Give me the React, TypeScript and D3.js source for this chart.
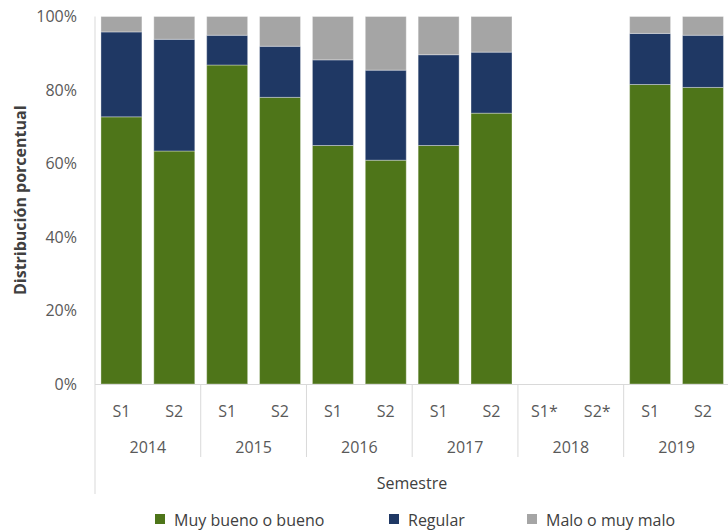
import React from "react";
import * as d3 from "d3";

const years = ["2014", "2015", "2016", "2017", "2018", "2019"];
const semesters = ["S1", "S2", "S1", "S2", "S1", "S2", "S1", "S2", "S1*", "S2*", "S1", "S2"];
const muyBueno: (number | null)[] = [72.7, 63.4, 86.8, 78.0, 64.9, 60.9, 64.9, 73.7, null, null, 81.5, 80.7];
const regular: (number | null)[] = [23.1, 30.4, 8.1, 13.9, 23.3, 24.5, 24.7, 16.6, null, null, 13.9, 14.2];
const malo: (number | null)[] = [4.2, 6.2, 5.1, 8.1, 11.8, 14.6, 10.4, 9.7, null, null, 4.6, 5.1];
const seriesNames = ["Muy bueno o bueno", "Regular", "Malo o muy malo"];
const colors = ["#4E7519", "#1F3864", "#A5A5A5"];
const yTicks = [0, 20, 40, 60, 80, 100];

const W = 728, H = 531;
const M = { left: 95, right: 729.4, top: 16.5, bottom: 384 };
const FONT = "'Open Sans', sans-serif";
const FS = 16;

export default function App() {
  const idx = semesters.map((_, i) => String(i));
  const x = d3.scaleBand().domain(idx).range([M.left, M.right]).paddingInner(0.225).paddingOuter(0.1125);
  const step = x.step();
  const y = d3.scaleLinear().domain([0, 100]).range([M.bottom, M.top]);
  const rows = semesters.map((_, i) => ({ i: String(i), a: muyBueno[i], b: regular[i], c: malo[i] }));
  const stack = d3.stack<any>().keys(["a", "b", "c"]).value((d, k) => (d[k] ?? 0));
  const layers = stack(rows);
  const sepX = d3.range(0, 13, 2).map((k) => M.left + k * step);

  return (
    <svg width={W} height={H} style={{ position: "absolute", left: 0, top: 0, background: "#fff" }} fontFamily={FONT}>
      {layers.map((layer, li) => (
        <g key={li} fill={colors[li]}>
          {layer.map((d, j) =>
            rows[j].a == null ? null : (
              <rect key={j} x={x(rows[j].i)} width={x.bandwidth()} y={y(d[1])} height={y(d[0]) - y(d[1])}
                stroke="#ffffff" strokeOpacity={0.35} strokeWidth={1} />
            )
          )}
        </g>
      ))}
      {/* axes */}
      <line x1={M.left} x2={M.left} y1={M.top} y2={494} stroke="#d9d9d9" strokeWidth={1} />
      <line x1={M.left} x2={W} y1={M.bottom + 0.5} y2={M.bottom + 0.5} stroke="#d9d9d9" strokeWidth={1} />
      {sepX.slice(1).map((sx, k) => (
        <line key={k} x1={sx} x2={sx} y1={M.bottom} y2={457} stroke="#d9d9d9" strokeWidth={1} />
      ))}
      {yTicks.map((t) => (
        <text key={t} x={77} y={y(t)} dy="0.35em" textAnchor="end" fontSize={FS} fill="#595959">{t}%</text>
      ))}
      {semesters.map((s, i) => (
        <text key={i} x={(x(String(i)) as number) + x.bandwidth() / 2} y={411} dy="0.35em" textAnchor="middle" fontSize={FS} fill="#595959">{s}</text>
      ))}
      {years.map((yr, k) => (
        <text key={yr} x={M.left + (2 * k + 1) * step} y={447} dy="0.35em" textAnchor="middle" fontSize={FS} fill="#595959">{yr}</text>
      ))}
      <text x={412} y={483} dy="0.35em" textAnchor="middle" fontSize={FS} fill="#404040">Semestre</text>
      <text transform={`translate(20,${(M.top + M.bottom) / 2}) rotate(-90)`} dy="0.35em" textAnchor="middle" fontSize={FS} fontWeight="bold" fill="#404040">Distribución porcentual</text>
      {seriesNames.map((n, k) => {
        const lx = [155, 389, 527][k];
        return (
          <g key={n}>
            <rect x={lx} y={514} width={10} height={10} fill={colors[k]} />
            <text x={lx + 19} y={520} dy="0.35em" fontSize={FS} fill="#404040">{n}</text>
          </g>
        );
      })}
    </svg>
  );
}
